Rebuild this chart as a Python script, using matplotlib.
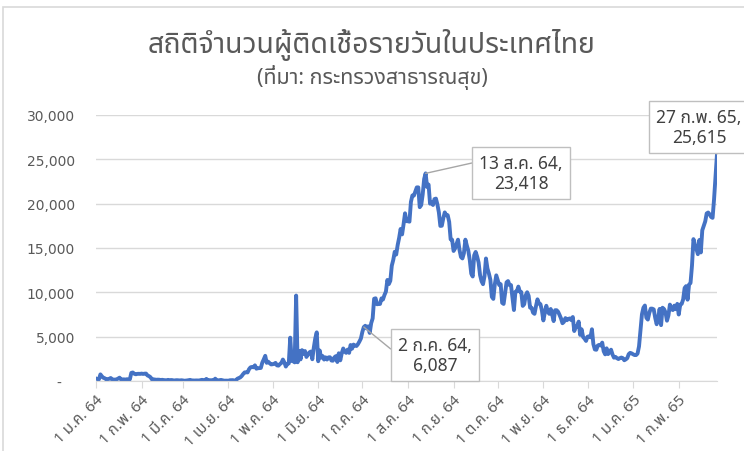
import numpy as np
import pandas as pd
import matplotlib
matplotlib.use("Agg")
import matplotlib.pyplot as plt
import matplotlib.dates as mdates
from matplotlib import font_manager
from matplotlib.patches import Rectangle

# Daily new cases, one list per month
cases_2021_01 = [279, 216, 194, 745, 527, 365, 305, 178, 212, 249, 339, 187, 157, 157, 188, 271,
                 374, 179, 172, 187, 146, 198, 198, 187, 914, 959, 819, 756, 802, 812, 803]
cases_2021_02 = [835, 796, 828, 837, 623, 549, 429, 186, 188, 165, 138, 151, 143, 109, 135, 104,
                 90, 76, 131, 77, 111, 95, 42, 78, 91, 71, 63, 84]
cases_2021_03 = [65, 28, 41, 64, 92, 124, 69, 62, 52, 63, 55, 56, 98, 131, 101, 90, 234, 82, 93,
                 83, 90, 57, 263, 101, 68, 99, 121, 74, 38, 42, 41]
cases_2021_04 = [26, 84, 84, 96, 51, 45, 250, 334, 405, 559, 789, 967, 985, 965, 1335, 1543, 1582,
                 1547, 1767, 1390, 1443, 1458, 1470, 2070, 2438, 2839, 2048, 2179, 2012, 1871]
cases_2021_05 = [1891, 1940, 2041, 1763, 1732, 1911, 2044, 2419, 2101, 1630, 1919, 1983, 4887, 2256,
                 2234, 2101, 9635, 2112, 3394, 2438, 3481, 3052, 3382, 2713, 2993, 3226, 3323, 2455,
                 3759, 4803, 5485]
cases_2021_06 = [2230, 3440, 2631, 2817, 2419, 2671, 2419, 2662, 2680, 2310, 2290, 2667, 2804, 2141,
                 3129, 2331, 3129, 3667, 3309, 3175, 3543, 3174, 4059, 3644, 4108, 3995, 3946, 4152,
                 4452, 4786]
cases_2021_07 = [5533, 6087, 6230, 5916, 6166, 5420, 6519, 7058, 9276, 9326, 8656, 8685, 8685, 9317,
                 9186, 9692, 10082, 11397, 10928, 11305, 13002, 13655, 14575, 14260, 15335, 16150,
                 17150, 16533, 17669, 18912, 18027]
cases_2021_08 = [18022, 17970, 20200, 20920, 20902, 21379, 21838, 21838, 19603, 19843, 21038, 22782,
                 23418, 21883, 22152, 20003, 20128, 19851, 20515, 20571, 19911, 19014, 17491, 17509,
                 18353, 19014, 18702, 18702, 17950, 15972, 15934]
cases_2021_09 = [14666, 14956, 15452, 15942, 14802, 13988, 13821, 14403, 15942, 15276, 14697, 13638,
                 12109, 11786, 14176, 14555, 14029, 13362, 11931, 11252, 10919, 11798, 13818, 12697,
                 12112, 11414, 9489, 9259, 10887, 11917]
cases_2021_10 = [11375, 10828, 10919, 8817, 8690, 9879, 11129, 11271, 10817, 10817, 9445, 8005,
                 10064, 10111, 10648, 10094, 10029, 8471, 8662, 9658, 10009, 9610, 8268, 8263,
                 7706, 7574, 8452, 9211, 8752, 8668, 7968]
cases_2021_11 = [6833, 7706, 8486, 7848, 7574, 8122, 7474, 6754, 7982, 7982, 7811, 7453, 7057, 6515,
                 6672, 7093, 6855, 7006, 7057, 6863, 7218, 5634, 6112, 6168, 6700, 5195, 5830, 4962,
                 4779, 4521]
cases_2021_12 = [4992, 5041, 4928, 5834, 4154, 3556, 3525, 4000, 4078, 3999, 4329, 3357, 3005, 3686,
                 3035, 3267, 3530, 2987, 2631, 2720, 2575, 2476, 2575, 2643, 2580, 2342, 2437, 2575,
                 3025, 3175, 3112]
cases_2022_01 = [3011, 2927, 2927, 3091, 3899, 5775, 7526, 8263, 8511, 7133, 6929, 7681, 8167, 8158,
                 8077, 7133, 6400, 7016, 8129, 6300, 8263, 8112, 7748, 6800, 7400, 8618, 8100, 8000,
                 8500, 8100, 8700]
cases_2022_02 = [7500, 8618, 8700, 9200, 10490, 10700, 9172, 10879, 11050, 13004, 16000, 15400,
                 14900, 14300, 15900, 14500, 17000, 17500, 18000, 18900, 19000, 18800, 18500, 18400,
                 20500, 23000, 25615]

tick_dates = ["2021-01-01", "2021-02-01", "2021-03-01", "2021-04-01", "2021-05-01", "2021-06-01",
              "2021-07-01", "2021-08-01", "2021-09-01", "2021-10-01", "2021-11-01", "2021-12-01",
              "2022-01-01", "2022-02-01"]
tick_labels = ["1 ม.ค. 64", "1 ก.พ. 64", "1 มี.ค. 64", "1 เม.ย. 64", "1 พ.ค. 64", "1 มิ.ย. 64",
               "1 ก.ค. 64", "1 ส.ค. 64", "1 ก.ย. 64", "1 ต.ค. 64", "1 พ.ย. 64", "1 ธ.ค. 64",
               "1 ม.ค. 65", "1 ก.พ. 65"]
y_ticks = [0, 5000, 10000, 15000, 20000, 25000, 30000]
y_labels = ["-   ", "5,000", "10,000", "15,000", "20,000", "25,000", "30,000"]

notes = [("2021-08-13", "13 ส.ค. 64,\n23,418"),
         ("2022-02-27", "27 ก.พ. 65,\n25,615"),
         ("2021-07-02", "2 ก.ค. 64,\n6,087")]

cases = (cases_2021_01 + cases_2021_02 + cases_2021_03 + cases_2021_04 + cases_2021_05 +
         cases_2021_06 + cases_2021_07 + cases_2021_08 + cases_2021_09 + cases_2021_10 +
         cases_2021_11 + cases_2021_12 + cases_2022_01 + cases_2022_02)
dates = pd.date_range("2021-01-01", periods=len(cases), freq="D")
series = pd.Series(cases, index=dates)


# pick an installed font that actually has Thai glyphs
def find_thai_font():
    names = []
    for f in font_manager.fontManager.ttflist:
        try:
            ft = font_manager.get_font(f.fname)
            if ft.get_char_index(0x0E2A) and ft.get_char_index(0x0E34):
                names.append(f.name)
        except Exception:
            pass
    for pref in ["Tahoma", "Leelawadee UI", "Noto Sans Thai", "Noto Sans Thai UI", "Loma",
                 "Garuda", "Norasi", "Waree", "TlwgTypo", "Umpush", "Sawasdee"]:
        if pref in names:
            return pref
    return names[0] if names else "DejaVu Sans"


thai = find_thai_font()
plt.rcParams["font.family"] = [thai, "DejaVu Sans"]

grey_text = "#595959"
grid_col = "#d9d9d9"

fig = plt.figure(figsize=(7.44, 4.52), dpi=100)
ax = fig.add_axes([96 / 744, 70 / 452, 621 / 744, 266 / 452])

ax.plot(series.index, series.values, color="#4472c4", lw=2.8, solid_joinstyle="round")

ax.set_xlim(dates[0], dates[-1])
ax.set_ylim(0, 30000)
ax.set_yticks(y_ticks)
ax.set_yticklabels(y_labels, color=grey_text, fontsize=10, family=["DejaVu Sans"])
ax.tick_params(axis="y", length=0, pad=15)
ax.set_xticks(pd.to_datetime(tick_dates))
ax.set_xticklabels(tick_labels, rotation=45, ha="right", rotation_mode="anchor",
                   color=grey_text, fontsize=11)
ax.tick_params(axis="x", length=5, color=grid_col, pad=3)
ax.grid(axis="y", color=grid_col, lw=1)
ax.set_axisbelow(True)
for side in ["left", "right", "top"]:
    ax.spines[side].set_visible(False)
ax.spines["bottom"].set_color(grid_col)

# callout labels
box = dict(boxstyle="square,pad=0.4", fc="white", ec="#bfbfbf", lw=1)
pos = [(521, 278), (699, 324), (435, 96)]
rel = [(0, 0.8), (0.6, 0), (0, 0.5)]
for (d, txt), p, r in zip(notes, pos, rel):
    d = pd.Timestamp(d)
    ax.annotate(txt, xy=(d, series[d]), xytext=p, textcoords="figure pixels",
                ha="center", va="center", fontsize=12.5, color="#404040", bbox=box,
                linespacing=1.2,
                arrowprops=dict(arrowstyle="-", color="#a6a6a6", lw=1, shrinkA=0, shrinkB=0,
                                relpos=r))

fig.text(0.5, 1 - 45 / 452, "สถิติจำนวนผู้ติดเชื้อรายวันในประเทศไทย", ha="center", va="center",
         fontsize=20.5, color=grey_text)
fig.text(0.5, 1 - 77 / 452, "(ที่มา: กระทรวงสาธารณสุข)", ha="center", va="center",
         fontsize=15.5, color=grey_text)

# chart area border
fig.patches.append(Rectangle((3 / 744, -0.05), 1.1, 1 - 8 / 452 + 0.05, transform=fig.transFigure,
                             fill=False, ec=grid_col, lw=1.2))

fig.savefig("out.png", dpi=100)
